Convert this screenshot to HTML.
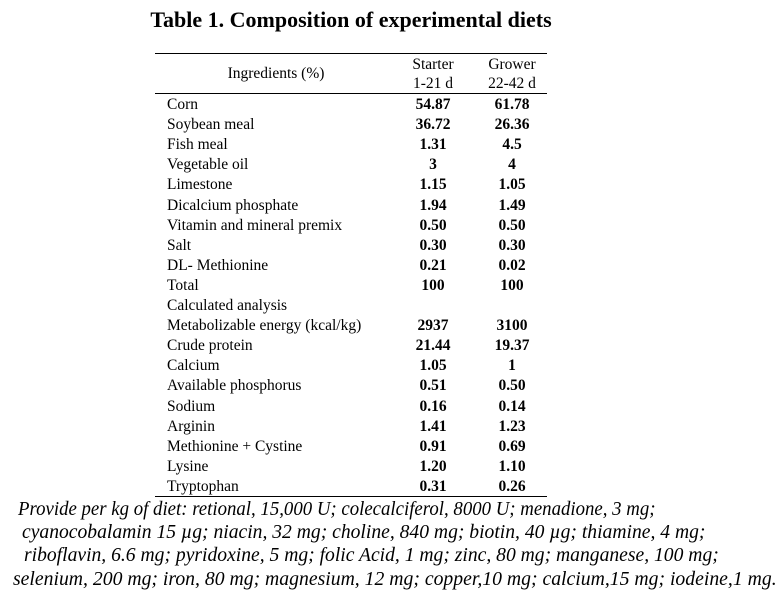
<!DOCTYPE html>
<html><head><meta charset="utf-8"><style>
body{margin:0;width:782px;height:595px;background:#fff;position:relative;font-family:"Liberation Serif",serif;color:#000;overflow:hidden}
.a{position:absolute;white-space:nowrap;line-height:1}
.r{font-size:15.5px}
.v{font-weight:bold;transform:translateX(-50%)}
.line{position:absolute;left:155px;width:392px;height:1px;background:#000}
.fn{position:absolute;font-style:italic;font-size:20px;white-space:nowrap;transform-origin:0 0;transform:scaleX(0.94);line-height:1}
</style></head><body>
<div class="a" style="left:351px;top:9px;transform:translateX(-50%);font-size:22px;font-weight:bold">Table 1. Composition of experimental diets</div>
<div class="line" style="top:53px"></div>
<div class="line" style="top:93px"></div>
<div class="line" style="top:496px"></div>
<div class="a r" style="left:276px;top:66px;transform:translateX(-50%)">Ingredients (%)</div>
<div class="a r" style="left:433px;top:57px;transform:translateX(-50%)">Starter</div>
<div class="a r" style="left:433px;top:76px;transform:translateX(-50%)">1-21 d</div>
<div class="a r" style="left:512px;top:57px;transform:translateX(-50%)">Grower</div>
<div class="a r" style="left:512px;top:76px;transform:translateX(-50%)">22-42 d</div>
<div id="rows"></div>
<script>
var d=[["Corn","54.87","61.78"],["Soybean meal","36.72","26.36"],["Fish meal","1.31","4.5"],["Vegetable oil","3","4"],["Limestone","1.15","1.05"],["Dicalcium phosphate","1.94","1.49"],["Vitamin and mineral premix","0.50","0.50"],["Salt","0.30","0.30"],["DL- Methionine","0.21","0.02"],["Total","100","100"],["Calculated analysis","",""],["Metabolizable energy (kcal/kg)","2937","3100"],["Crude protein","21.44","19.37"],["Calcium","1.05","1"],["Available phosphorus","0.51","0.50"],["Sodium","0.16","0.14"],["Arginin","1.41","1.23"],["Methionine + Cystine","0.91","0.69"],["Lysine","1.20","1.10"],["Tryptophan","0.31","0.26"]];
var h="";d.forEach(function(r,i){var t=97+i*20.1;h+='<div class="a r" style="left:167px;top:'+t+'px">'+r[0]+'</div><div class="a r v" style="left:433px;top:'+t+'px">'+r[1]+'</div><div class="a r v" style="left:512px;top:'+t+'px">'+r[2]+'</div>';});
document.getElementById("rows").innerHTML=h;
</script>
<div class="fn" style="left:18px;top:499px">Provide per kg of diet: retional, 15,000 U; colecalciferol, 8000 U; menadione, 3 mg;</div>
<div class="fn" style="left:22px;top:522px;transform:scaleX(0.98)">cyanocobalamin 15 µg; niacin, 32 mg; choline, 840 mg; biotin, 40 µg; thiamine, 4 mg;</div>
<div class="fn" style="left:24px;top:545px;transform:scaleX(0.98)">riboflavin, 6.6 mg; pyridoxine, 5 mg; folic Acid, 1 mg; zinc, 80 mg; manganese, 100 mg;</div>
<div class="fn" style="left:13px;top:569px;transform:scaleX(0.985)">selenium, 200 mg; iron, 80 mg; magnesium, 12 mg; copper,10 mg; calcium,15 mg; iodeine,1 mg.</div>
</body></html>
